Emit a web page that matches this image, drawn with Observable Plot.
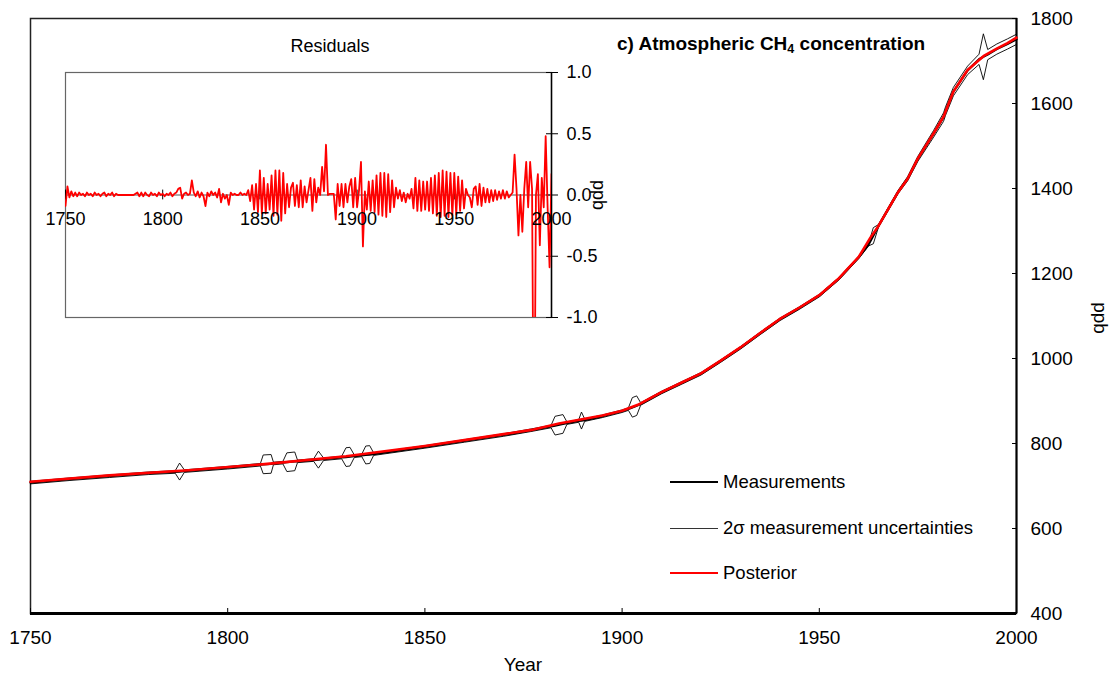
<!DOCTYPE html>
<html><head><meta charset="utf-8">
<script src="https://cdn.jsdelivr.net/npm/d3@7"></script>
<script src="https://cdn.jsdelivr.net/npm/@observablehq/plot@0.6"></script>
<style>
body{margin:0;background:#fff;font-family:"Liberation Sans",Arial,sans-serif;}
#wrap{position:relative;width:1112px;height:677px;overflow:hidden;}
#wrap svg{position:absolute;left:0;top:0;}
.t{position:absolute;white-space:nowrap;color:#000;line-height:1;}
.sw{position:absolute;left:670px;width:48px;}
</style></head><body><div id="wrap"></div>
<script>
// ---- tick labels ----
const xTicks = [1750, 1800, 1850, 1900, 1950, 2000];
const yTicks = [400, 600, 800, 1000, 1200, 1400, 1600, 1800];
const resTicksX = [1750, 1800, 1850, 1900, 1950, 2000];
const resTicksY = [-1, -0.5, 0, 0.5, 1];

// ---- measurements (ppb) with 2-sigma half widths ----
const measYear = [1750,1760,1770,1780,1786.7,1787.8,1789,1800,1808.3,1809,1811,1811.6,1814,1815,1817,1817.7,
  1821.8,1823,1824.3,1828.9,1830,1831,1832.1,1834,1835,1836,1837,1850,1860,1870,1876.8,1882,1883,1885,1886,
  1889,1889.7,1890.5,1895,1900,1901.6,1902.6,1903.7,1904.7,1910,1915,1920,1925,1930,1935,1940,1945,1950,1955,
  1960,1962.5,1963.7,1965,1970,1972.4,1975,1979,1981.5,1982,1984,1987.6,1990.5,1991.6,1992.7,1995,1997.7,2000];
const measPpb = [708,716,723,730,733,734,735,743,750,751,752,753,755,756,758,758,
  761,762,763,767,768,769,770,772,773,774,775,792,806,820,831,840,842,846,848,
  853,854,855,864,876,881,885,889,893,920,942,964,994,1025,1059,1092,1119,1148,1188,
  1238,1268,1289,1312,1392,1423,1470,1529,1568,1582,1628,1678,1704,1710,1715,1728,1740,1751];
const measUnc = [3,3,3,3,3,20,3,3,3,22,22,3,3,22,22,3,
  3,20,3,3,22,22,3,3,21,21,3,3,3,3,3,3,22,22,3,
  3,20,3,3,3,3,23,23,3,3,3,3,3,3,3,3,3,3,3,
  3,3,19,3,4,5,6,8,10,10,10,10,12,54,12,12,12,12];

// ---- posterior (ppb) ----
const postYear = [1750,1770,1790,1810,1830,1850,1865,1877,1884,1895,1900,1904,1910,1915,1920,1925,1930,1935,1940,1945,1950,
  1955,1960,1963,1965,1970,1972.4,1975,1979,1981.5,1984,1987.6,1991.7,1995,1997.7,2000];
const postPpb = [710,725,737,752,770,794,815,832,847,866,877,891,921,943,965,995,1026,1060,1093,1120,1149,
  1189,1239,1285,1312,1392,1423,1471,1530,1569,1628,1679,1712,1729,1742,1755];

// ---- residuals (ppb), one per year from 1750 ----
const residualStart = 1750;
const residuals = [
  -0.09,0.07,-0.02,0.03,-0.01,0.02,-0.01,0.02,0.00,0.01,
  -0.01,0.02,0.00,0.01,-0.01,0.02,0.00,0.01,-0.01,0.01,
  0.02,-0.01,0.01,0.00,0.02,-0.01,0.01,0.00,0.00,0.00,
  0.00,0.00,0.00,0.00,0.00,0.00,0.01,0.02,-0.01,0.02,
  -0.01,0.02,0.00,-0.01,0.02,0.00,0.01,-0.01,0.02,0.00,
  0.01,-0.01,0.01,0.00,0.02,-0.01,0.01,0.02,0.05,0.06,
  -0.03,0.01,0.02,0.00,0.01,0.12,0.02,-0.01,0.03,-0.02,
  0.02,-0.01,-0.09,0.02,-0.01,0.03,0.00,0.02,-0.02,0.05,
  -0.06,0.01,-0.03,0.00,-0.08,0.02,0.00,0.01,0.00,0.00,
  0.02,0.00,0.01,0.00,0.04,-0.05,0.08,-0.12,0.09,-0.14,
  0.20,-0.15,0.14,-0.15,0.09,-0.12,0.16,-0.17,0.20,-0.16,
  0.20,-0.21,0.18,-0.15,0.09,-0.10,0.06,0.10,-0.09,0.08,
  -0.10,0.12,-0.10,0.07,-0.06,0.04,0.14,-0.13,0.13,-0.06,
  0.06,0.00,0.23,0.03,0.41,0.00,0.01,0.01,0.01,-0.20,
  0.09,-0.09,0.09,-0.10,0.09,-0.06,0.07,0.13,-0.10,0.14,
  -0.10,0.04,0.27,-0.42,0.03,-0.12,0.11,-0.13,0.12,-0.14,
  0.16,-0.16,0.18,-0.17,0.18,-0.18,0.17,-0.14,0.12,-0.10,
  0.06,-0.03,0.04,-0.05,0.02,-0.06,0.01,-0.03,0.05,-0.11,
  0.14,-0.13,0.12,-0.13,0.11,-0.12,0.11,-0.13,0.14,-0.15,
  0.16,-0.17,0.18,-0.18,0.20,-0.17,0.19,-0.18,0.18,-0.17,
  0.18,-0.16,0.15,-0.13,0.12,-0.11,0.05,0.00,-0.02,-0.10,
  0.05,0.07,-0.08,0.09,-0.09,0.06,-0.06,0.05,-0.06,0.04,
  -0.05,0.04,-0.04,0.03,-0.03,0.04,-0.03,0.03,-0.02,0.00,
  0.02,0.33,0.05,-0.33,0.00,-0.30,0.05,0.27,-0.10,0.27,
  0.05,-2.50,0.00,0.17,-0.41,0.14,-0.10,0.48,-0.10,-0.59,
  0.17
];

const FONT = "Liberation Sans, Arial, sans-serif";
const meas = measYear.map((yr, i) => ({year: yr, ppb: measPpb[i], lo: measPpb[i] - measUnc[i], hi: measPpb[i] + measUnc[i]}));
const post = postYear.map((yr, i) => ({year: yr, ppb: postPpb[i]}));
const res = residuals.map((v, i) => ({year: residualStart + i, v}));

const wrap = document.getElementById("wrap");

const main = Plot.plot({
  width: 1112, height: 677,
  marginLeft: 30, marginTop: 18, marginRight: 96, marginBottom: 64,
  style: {fontFamily: FONT, fontSize: "19px", background: "transparent", color: "#000", overflow: "visible"},
  x: {domain: [1750, 2000]},
  y: {domain: [400, 1800]},
  marks: [
    Plot.frame({stroke: "#222", strokeWidth: 1.5}),
    Plot.axisX({ticks: xTicks, tickSize: -5, tickPadding: 22, tickFormat: d => String(d), label: null, fontSize: 19}),
    Plot.axisY({anchor: "right", ticks: yTicks, tickSize: -5, tickPadding: 19, tickFormat: d => String(d), label: null, fontSize: 19}),
    Plot.ruleY([400], {stroke: "#000", strokeWidth: 3}),
    Plot.ruleX([2000], {stroke: "#000", strokeWidth: 2}),
    Plot.line(meas, {x: "year", y: "hi", stroke: "#000", strokeWidth: 0.9}),
    Plot.line(meas, {x: "year", y: "lo", stroke: "#000", strokeWidth: 0.9}),
    Plot.line(meas, {x: "year", y: "ppb", stroke: "#000", strokeWidth: 2.2}),
    Plot.line(post, {x: "year", y: "ppb", stroke: "#ff0000", strokeWidth: 2.6})
  ]
});
wrap.appendChild(main);

const inset = Plot.plot({
  width: 620, height: 330,
  marginLeft: 65, marginTop: 72, marginRight: 69, marginBottom: 13,
  style: {fontFamily: FONT, fontSize: "18px", background: "transparent", color: "#000", overflow: "visible"},
  x: {domain: [1750, 2000], axis: null},
  y: {domain: [-1, 1]},
  marks: [
    Plot.frame({stroke: "#666", strokeWidth: 1.2}),
    Plot.ruleY([0], {stroke: "#555", strokeWidth: 1}),
    Plot.ruleX(resTicksX, {y1: -0.04, y2: 0.04, stroke: "#000", strokeWidth: 1}),
    Plot.axisY({anchor: "right", ticks: resTicksY, tickSize: 6, tickPadding: 9, tickFormat: d => d.toFixed(1), label: null, fontSize: 18}),
    Plot.axisY({anchor: "right", ticks: resTicksY, tickSize: -6, tickFormat: () => "", label: null}),
    Plot.ruleX([2000], {stroke: "#000", strokeWidth: 1.5}),
    Plot.line(res, {x: "year", y: "v", stroke: "#ff0000", strokeWidth: 1.8, clip: true}),
    Plot.text(resTicksX, {x: d => d, y: 0, dy: 17, text: d => String(d), lineAnchor: "top", fontSize: 18, fill: "#000"})
  ]
});
wrap.appendChild(inset);

function addText(html, css) {
  const d = document.createElement("div");
  d.className = "t";
  d.innerHTML = html;
  Object.assign(d.style, css);
  wrap.appendChild(d);
  return d;
}
addText("Residuals", {left: "330px", top: "46px", fontSize: "18px", transform: "translate(-50%,-50%)"});
addText("c) Atmospheric CH<sub style='font-size:12.5px;vertical-align:-3px'>4</sub> concentration",
  {left: "617px", top: "45px", fontSize: "19px", fontWeight: "bold", transform: "translateY(-50%)"});
addText("Year", {left: "523px", top: "664px", fontSize: "19px", transform: "translate(-50%,-50%)"});
addText("qdd", {left: "1097px", top: "318px", fontSize: "19px", transform: "translate(-50%,-50%) rotate(-90deg)"});
addText("qdd", {left: "597px", top: "195px", fontSize: "18px", transform: "translate(-50%,-50%) rotate(-90deg)"});

const legend = [
  {label: "Measurements", color: "#000", w: 2.2, y: 482},
  {label: "2σ measurement uncertainties", color: "#333", w: 1, y: 528},
  {label: "Posterior", color: "#ff0000", w: 2.2, y: 573}
];
legend.forEach(l => {
  const s = document.createElement("div");
  s.className = "sw";
  Object.assign(s.style, {top: (l.y - l.w / 2) + "px", height: l.w + "px", background: l.color});
  wrap.appendChild(s);
  addText(l.label, {left: "723px", top: l.y + "px", fontSize: "18.5px", transform: "translateY(-50%)"});
});
</script>
</body></html>
